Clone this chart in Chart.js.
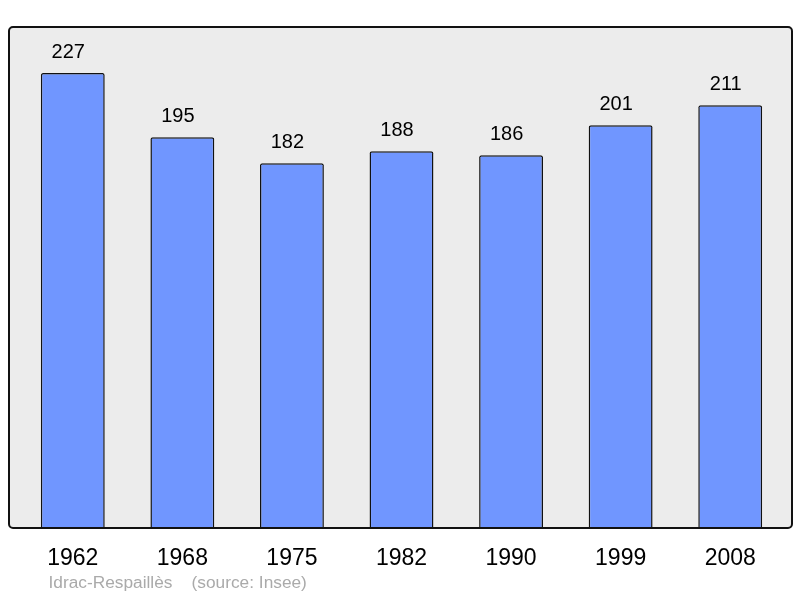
<!DOCTYPE html>
<html>
<head>
<meta charset="utf-8">
<script src="https://cdn.jsdelivr.net/npm/chart.js@4/dist/chart.umd.min.js"></script>
<style>
  html, body { margin: 0; padding: 0; background: #fff; }
  #wrap { width: 800px; height: 598px; }
</style>
</head>
<body>
<div id="wrap"><canvas id="popChart" width="800" height="598"></canvas></div>
<script>
// années de recensement et population
const years = ['1962', '1968', '1975', '1982', '1990', '1999', '2008'];
const population = [227, 195, 182, 188, 186, 201, 211];
const sourceText = 'Idrac-Respaillès    (source: Insee)';

// fond gris + cadre arrondi
const framePlugin = {
    id: 'frame',
    beforeDraw(chart) {
        const { ctx, chartArea: a } = chart;
        const x = a.left - 9, y = a.top, w = (a.right + 7) - x, h = a.bottom - a.top;
        ctx.save();
        ctx.beginPath();
        ctx.roundRect(x, y, w, h, 4);
        ctx.fillStyle = '#ececec';
        ctx.fill();
        ctx.restore();
    },
    afterDatasetsDraw(chart) {
        const { ctx, chartArea: a } = chart;
        const x = a.left - 9, y = a.top, w = (a.right + 7) - x, h = a.bottom - a.top;
        ctx.save();
        ctx.beginPath();
        ctx.roundRect(x, y, w, h, 4);
        ctx.lineWidth = 2;
        ctx.strokeStyle = '#111';
        ctx.stroke();

        // valeurs au-dessus des barres (légèrement décalées à gauche)
        const meta = chart.getDatasetMeta(0);
        ctx.fillStyle = '#000';
        ctx.font = '20px "Liberation Sans", Arial, sans-serif';
        ctx.textAlign = 'center';
        ctx.textBaseline = 'middle';
        meta.data.forEach((bar, i) => {
            ctx.fillText(String(population[i]), bar.x - 4.5, bar.y - 21);
        });

        // source
        ctx.fillStyle = '#aaaaaa';
        ctx.font = '17.3px "Liberation Sans", Arial, sans-serif';
        ctx.textAlign = 'left';
        ctx.fillText(sourceText, 48.5, 583);
        ctx.restore();
    }
};

new Chart(document.getElementById('popChart'), {
    type: 'bar',
    data: {
        labels: years,
        datasets: [{
            data: population,
            backgroundColor: '#7096ff',
            borderColor: '#111',
            borderWidth: 1.5,
            borderRadius: 2,
            borderSkipped: 'bottom',
            barPercentage: 0.583,
            categoryPercentage: 1
        }]
    },
    options: {
        responsive: false,
        animation: false,
        events: [],
        layout: { padding: { left: 18, right: 15, top: 27, bottom: 0 } },
        plugins: { legend: { display: false }, tooltip: { enabled: false } },
        scales: {
            y: { display: false, min: 0, max: 250 },
            x: {
                grid: { display: false, drawTicks: false },
                border: { display: false },
                ticks: {
                    color: '#000',
                    padding: 17,
                    font: { size: 23, family: '"Liberation Sans", Arial, sans-serif' }
                },
                afterFit(scale) { scale.height = 70; }
            }
        }
    },
    plugins: [framePlugin]
});
</script>
</body>
</html>
